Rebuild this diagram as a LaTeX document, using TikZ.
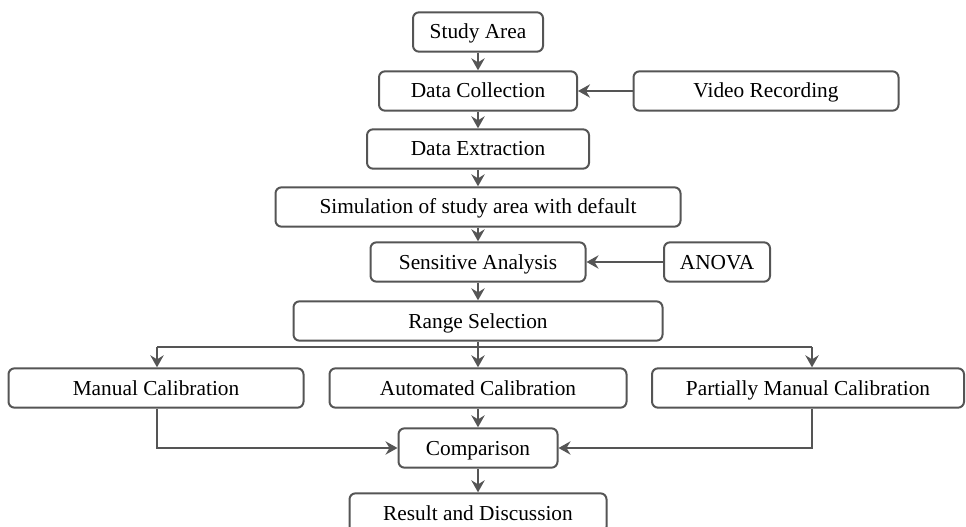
\documentclass[tikz,border=0pt]{standalone}
\usepackage{fontspec}
\setmainfont{Liberation Serif}
\usetikzlibrary{arrows.meta,positioning,calc}
\definecolor{flow}{HTML}{555555}

\begin{document}
\begin{tikzpicture}[->, >={Stealth[length=9pt, width=10pt, inset=3pt]}, x=0.75pt, y=-0.75pt, line width=1.5pt]
        \tikzstyle{box}=[draw=flow, rounded corners=4.5pt, minimum height=29.5pt, inner sep=0pt, text=black, text height=12pt, text depth=1.5pt, font=\fontsize{16}{19}\selectfont]
        \tikzstyle{every edge}=[draw=flow]
        \useasboundingbox (0,0) rectangle (966,527);

        % main column
        \node[box, minimum width=97.5pt]    (A) at (478,32)                              {Study Area};
        \node[box, minimum width=148.5pt]   (B) [node distance=44.25pt, below of=A]     {Data Collection};
        \node[box, minimum width=166.5pt]   (C) [node distance=43.5pt, below of=B]      {Data Extraction};
        \node[box, minimum width=303.75pt]  (D) [node distance=43.5pt, below of=C]      {Simulation of study area with default};
        \node[box, minimum width=161.25pt]  (E) [node distance=41.25pt, below of=D]     {Sensitive Analysis};
        \node[box, minimum width=276.75pt]  (F) [node distance=44.25pt, below of=E]     {Range Selection};
        \node[box, minimum width=222.75pt]  (H) [node distance=50.25pt, below of=F]     {Automated Calibration};
        \node[box, minimum width=119.25pt]  (I) [node distance=45pt, below of=H]        {Comparison};
        \node[box, minimum width=192.75pt]  (J) [node distance=48.75pt, below of=I]     {Result and Discussion};

        % side boxes
        \node[box, minimum width=198.75pt]  (V) [node distance=216pt, right of=B]       {Video Recording};
        \node[box, minimum width=79.5pt]    (N) [node distance=179.25pt, right of=E]    {ANOVA};
        \node[box, minimum width=221.25pt]  (G) [node distance=241.5pt, left of=H]      {Manual Calibration};
        \node[box, minimum width=234pt]     (K) [node distance=247.5pt, right of=H]     {Partially Manual Calibration};

        % fork below range selection
        \coordinate (fork)  at (F.south |- 0,347);
        \coordinate (forkL) at (157,347);
        \coordinate (forkR) at (812,347);

        \path
        (A) edge (B)
        (B) edge (C)
        (C) edge (D)
        (D) edge (E)
        (E) edge (F)
        (V) edge (B)
        (N) edge (E)
        (fork)  edge (H)
        (forkL) edge (G.north -| forkL)
        (forkR) edge (K.north -| forkR)
        (H) edge (I)
        (I) edge (J);

        \draw[-, draw=flow] (F) -- (fork);
        \draw[-, draw=flow] (forkL) -- (forkR);
        \draw[draw=flow] (G.south -| forkL) |- (I);
        \draw[draw=flow] (K.south -| forkR) |- (I);
\end{tikzpicture}
\end{document}
